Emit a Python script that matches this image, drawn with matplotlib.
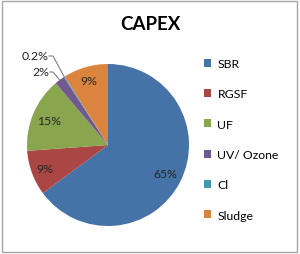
import numpy as np
import matplotlib
matplotlib.use("Agg")
import matplotlib.pyplot as plt
from matplotlib.patches import Patch, Rectangle

plt.rcParams['font.family'] = ['Lato', 'DejaVu Sans']

# data
categories = ['SBR', 'RGSF', 'UF', 'UV/ Ozone', 'Cl', 'Sludge']
shares = [65, 9, 15, 2, 0.2, 9]
labels = ['65%', '9%', '15%', '2%', '0.2%', '9%']
colors = ['#4572A7', '#AA4643', '#89A54E', '#71588F', '#4198AF', '#DB843D']

W, H = 300, 255
fig = plt.figure(figsize=(W / 100, H / 100), dpi=100)
fig.patch.set_facecolor('white')

# outer frame
fig.patches.append(Rectangle((2 / W, 2 / H), 295 / W, 251 / H, transform=fig.transFigure,
                             fill=False, edgecolor='#A6A6A6', lw=1))

fig.text(150 / W, 1 - 25 / H, 'CAPEX', ha='center', va='center',
         fontsize=13.5, fontweight='bold', color='black')

# pie axes: centre (108,146), radius 81 px
cx, cy, r = 108, 146, 81
ax = fig.add_axes([(cx - r) / W, 1 - (cy + r) / H, 2 * r / W, 2 * r / H])
wedges, _ = ax.pie(shares, colors=colors, startangle=90, counterclock=False,
                   wedgeprops=dict(linewidth=0))
ax.set_xlim(-1, 1)
ax.set_ylim(-1, 1)
ax.set_aspect('equal')
ax.axis('off')

txt_col = '#262626'
# inside labels
for i in [0, 1, 2, 5]:
    w = wedges[i]
    ang = np.deg2rad((w.theta1 + w.theta2) / 2)
    d = 0.79 if i in (0, 2) else 0.83
    ax.text(d * np.cos(ang), d * np.sin(ang), labels[i], ha='center', va='center',
            fontsize=8.8, color=txt_col)

# outside labels with leader lines (text pos in pixels)
def px(x, y):
    return (x - cx) / r, (cy - y) / r

out = {3: (49, 73, 53), 4: (48, 57, 53)}
for i, (tx, ty, lx) in out.items():
    w = wedges[i]
    ang = np.deg2rad((w.theta1 + w.theta2) / 2)
    ex, ey = np.cos(ang), np.sin(ang)
    x0, y0 = px(tx + 1, ty)
    x1, y1 = px(lx, ty)
    ax.plot([x0, x1, ex], [y0, y1, ey], color='#7F7F7F', lw=0.8, clip_on=False)
    ax.text(x0 - 0.01, y0, labels[i], ha='right', va='center', fontsize=8.8, color=txt_col)

handles = [Patch(facecolor=c, edgecolor='none') for c in colors]
fig.legend(handles, categories, loc='upper left', bbox_to_anchor=(204 / W, 1 - 59 / H),
           frameon=False, fontsize=8.8, handlelength=0.6, handleheight=0.6,
           handletextpad=0.5, labelspacing=1.58, borderpad=0, borderaxespad=0)

fig.savefig('out.png', dpi=100)
